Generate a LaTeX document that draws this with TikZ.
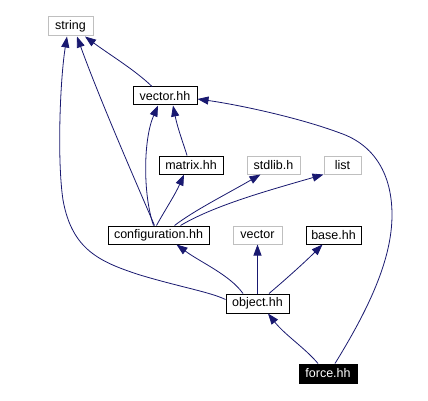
\documentclass[tikz,border=0pt]{standalone}
\usepackage{fontspec}
\setmainfont{Liberation Sans}
\usetikzlibrary{arrows.meta}
\definecolor{edgec}{HTML}{191970}
\definecolor{grayb}{HTML}{BFBFBF}
\tikzset{
  box/.style={draw=black, line width=1pt, inner sep=0pt, minimum height=18pt, font=\fontsize{12.5}{14}\selectfont, text=black, fill=white},
  graybox/.style={box, draw=grayb},
  selbox/.style={box, fill=black, text=white},
  dep/.style={draw=edgec, line width=0.8pt, {Triangle[length=11pt,width=8pt,fill=edgec]}-},
}
\begin{document}
\begin{tikzpicture}[x=1pt,y=-1pt]
\useasboundingbox[fill=white] (0,0) rectangle (428,401);
\node[graybox, minimum width=45pt, minimum height=19pt] (string) at (70.5,26.5) {string};
\node[box, minimum width=64pt] (vectorhh) at (165,96) {vector.hh};
\node[box, minimum width=64pt] (matrix) at (191,165) {matrix.hh};
\node[graybox, minimum width=53pt] (stdlib) at (273.5,165) {stdlib.h};
\node[graybox, minimum width=37pt] (list) at (342.5,165) {list};
\node[box, minimum width=101pt] (config) at (158.5,235) {configuration.hh};
\node[graybox, minimum width=49pt] (vector) at (257.5,235) {vector};
\node[box, minimum width=55pt] (base) at (333.5,235) {base.hh};
\node[box, minimum width=63pt, minimum height=19pt] (object) at (257.5,303.5) {object.hh};
\node[selbox, minimum width=58pt, minimum height=19pt] (force) at (328,373.5) {force.hh};

% vector.hh -> string
\draw[dep] ([xshift=14.5pt]string.south) .. controls (110,55) and (135,70) .. ([xshift=-13pt]vectorhh.north);
% configuration.hh -> string
\draw[dep] ([xshift=6.5pt]string.south) .. controls (100,100) and (135,180) .. ([xshift=-4pt]config.north);
% object.hh -> string
\draw[dep] ([xshift=-3.5pt]string.south) .. controls (60,80) and (57,160) .. (63,200)
  .. controls (72,250) and (100,262) .. (140,275) .. controls (180,287) and (210,292) .. ([yshift=4pt]object.west);
% configuration.hh -> vector.hh
\draw[dep] ([xshift=-7pt]vectorhh.south) .. controls (143,140) and (143,195) .. ([xshift=-5pt]config.north);
% matrix.hh -> vector.hh
\draw[dep] ([xshift=8pt]vectorhh.south) .. controls (178,130) and (184,145) .. ([xshift=-4pt]matrix.north);
% configuration.hh -> matrix.hh
\draw[dep] ([xshift=-7pt]matrix.south) .. controls (175,195) and (165,210) .. ([xshift=-2pt]config.north);
% configuration.hh -> stdlib.h
\draw[dep] ([xshift=-13pt]stdlib.south) .. controls (225,195) and (195,210) .. ([xshift=16pt]config.north);
% configuration.hh -> list
\draw[dep] ([xshift=-19pt]list.south) .. controls (270,190) and (215,205) .. ([xshift=22pt]config.north);
% object.hh -> configuration.hh
\draw[dep] ([xshift=18pt]config.south) .. controls (200,262) and (230,275) .. ([xshift=-14.5pt]object.north);
% object.hh -> vector
\draw[dep] (vector.south) -- (object.north);
% object.hh -> base.hh
\draw[dep] ([xshift=-11pt]base.south) .. controls (305,262) and (285,280) .. ([xshift=11.5pt]object.north);
% force.hh -> object.hh
\draw[dep] ([xshift=10.5pt]object.south) .. controls (285,335) and (305,348) .. ([xshift=-10pt]force.north);
% force.hh -> vector.hh
\draw[dep] ([yshift=-3pt]vectorhh.east) .. controls (240,105) and (300,118) .. (340,133)
  .. controls (375,145) and (392,175) .. (392,215) .. controls (392,260) and (368,310) .. ([xshift=7pt]force.north);
\end{tikzpicture}
\end{document}
